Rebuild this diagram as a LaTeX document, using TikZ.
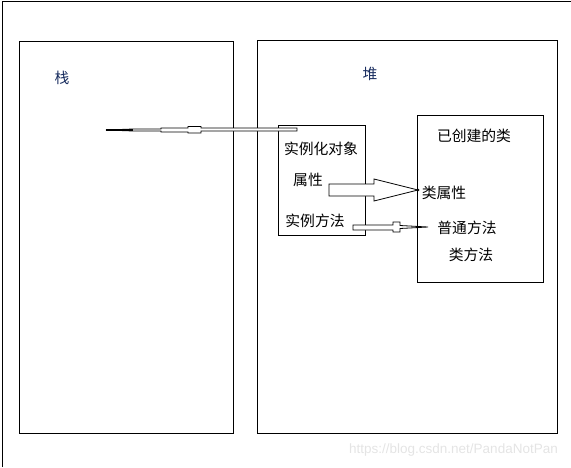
\documentclass[tikz,border=0pt]{standalone}
\usepackage{fontspec}
\setmainfont{Liberation Sans}
\newfontfamily\cjk{Noto Sans CJK SC}
\definecolor{navy}{RGB}{25,45,95}
\definecolor{wm}{RGB}{228,228,228}
\begin{document}
\begin{tikzpicture}[x=1pt,y=-1pt,
  frame/.style={draw=black,line width=1pt},
  lbl/.style={font=\cjk\fontsize{14.8}{16}\selectfont,inner sep=0pt,anchor=center},
  blk/.style={draw=black,line width=0.8pt,fill=white,line join=miter}]
\useasboundingbox (0,0) rectangle (571,467);
% outer frame
\draw[frame] (2,467) -- (2,1) -- (571,1);
% boxes
\node[frame,minimum width=214pt,minimum height=392pt,inner sep=0pt,anchor=north west] (stack) at (19,41) {};
\node[frame,minimum width=300pt,minimum height=393pt,inner sep=0pt,anchor=north west] (heap) at (257,40) {};
\node[frame,minimum width=87pt,minimum height=110pt,inner sep=0pt,anchor=north west] (inst) at (278,125) {};
\node[frame,minimum width=126pt,minimum height=167pt,inner sep=0pt,anchor=north west] (cls) at (417,115) {};
% labels
\node[lbl,text=navy] (tz) at (62,78) {栈};
\node[lbl,text=navy] (dui) at (370,74) {堆};
\node[lbl] (sl) at (321,149) {实例化对象};
\node[lbl] (sx) at (308,180) {属性};
\node[lbl] (sf) at (315,221) {实例方法};
\node[lbl] (yc) at (474,136) {已创建的类};
\node[lbl] (lsx) at (444,193) {类属性};
\node[lbl] (pt) at (467,228) {普通方法};
\node[lbl] (lff) at (471,255) {类方法};
% arrow 1 (stack -> instance), thin block arrow pointing left
\coordinate (a1s) at (297,129.5);
\coordinate (a1e) at (106,130);
\draw[blk] (a1s) ++(0,-1.5) -- (201,128) -- (201,126.5) -- (188,126.5) -- (188,128) -- (161,128) -- (161,129) -- (133,129)
  -- (a1e) -- (133,131) -- (161,131) -- (161,132) -- (188,132) -- (188,133) -- (201,133) -- (201,131) -- (297,131) -- cycle;
\draw[line width=1.6pt] (a1e) -- (133,130);
% arrow 2 (属性 -> 类属性)
\coordinate (a2t) at (418,190);
\draw[blk] (329,184) -- (374,184) -- (374,179) -- (a2t) -- (374,201) -- (374,196) -- (329,196) -- cycle;
\fill (a2t) circle (1.3pt);
% arrow 3 (实例方法 -> 普通方法)
\coordinate (a3t) at (428,227);
\draw[blk] (353,225) -- (393,225) -- (393,222) -- (400,222) -- (400,225.5) -- (a3t) -- (400,228.5) -- (400,232) -- (393,232) -- (393,230) -- (353,230) -- cycle;
% watermark
\node[font=\fontsize{13.5}{15}\selectfont,text=wm,inner sep=0pt,anchor=east] (wmk) at (558,450) {https://blog.csdn.net/PandaNotPan};
\end{tikzpicture}
\end{document}
